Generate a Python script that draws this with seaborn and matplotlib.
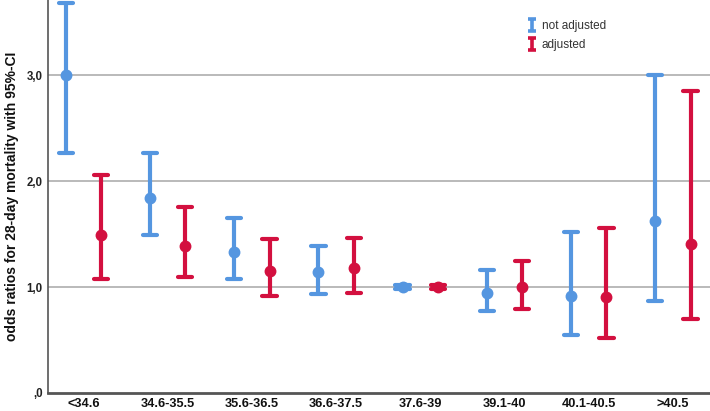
import numpy as np
import pandas as pd
import matplotlib
matplotlib.use("Agg")
import matplotlib.pyplot as plt
from matplotlib.lines import Line2D
from matplotlib.path import Path
import seaborn as sns

# temperature categories (x axis)
categories = ["<34.6", "34.6-35.5", "35.6-36.5", "36.6-37.5",
              "37.6-39", "39.1-40", "40.1-40.5", ">40.5"]

# odds ratios and 95%-CI
or_raw = [3.00, 1.84, 1.33, 1.145, 1.00, 0.94, 0.92, 1.62]
lo_raw = [2.27, 1.49, 1.08, 0.934, 0.98, 0.77, 0.55, 0.87]
hi_raw = [3.68, 2.27, 1.65, 1.39, 1.02, 1.16, 1.52, 3.00]

or_adj = [1.49, 1.39, 1.15, 1.18, 1.00, 1.00, 0.91, 1.41]
lo_adj = [1.08, 1.10, 0.915, 0.946, 0.98, 0.79, 0.52, 0.70]
hi_adj = [2.06, 1.76, 1.45, 1.46, 1.02, 1.25, 1.56, 2.85]

groups = ["not adjusted", "adjusted"]
colors = ["#5596E0", "#D3103F"]

# long table: lower / estimate / upper per cell -> median = estimate, min/max = CI
rows = []
for g, (est, lo, hi) in zip(groups, [(or_raw, lo_raw, hi_raw), (or_adj, lo_adj, hi_adj)]):
    for c, e, l, h in zip(categories, est, lo, hi):
        for v in (l, e, h):
            rows.append({"temp": c, "group": g, "odds": v})
df = pd.DataFrame(rows)

sns.set_style("white")
plt.rcParams["font.family"] = ["Liberation Sans", "DejaVu Sans"]

fig = plt.figure(figsize=(7.10, 4.11), dpi=100)
ax = fig.add_axes([0.0676, 0.044, 0.9324, 0.956])

sns.pointplot(data=df, x="temp", y="odds", hue="group", order=categories,
              hue_order=groups, palette=colors, estimator="median",
              errorbar=lambda v: (v.min(), v.max()), dodge=0.42,
              linestyle="none", markers="o", markersize=6.5,
              capsize=0.17, err_kws={"linewidth": 3.0}, legend=False, ax=ax)

ax.set_xlim(-0.42, 7.44)
ax.set_ylim(0, 3.713)
ax.set_yticks([0, 1, 2, 3])
ax.set_yticklabels([",0", "1,0", "2,0", "3,0"], fontweight="bold", fontsize=8.3, color="#222222")
for lab in ax.get_xticklabels():
    lab.set_fontweight("bold")
    lab.set_fontsize(9.2)
    lab.set_color("#111111")
ax.tick_params(axis="both", length=0, pad=4)
ax.set_xlabel("")
ax.set_ylabel("odds ratios for 28-day mortality with 95%-CI", fontweight="bold",
              fontsize=10, color="#111111", labelpad=5)

for y in [1, 2, 3]:
    ax.axhline(y, color="#b4b4b4", linewidth=1.3, zorder=0)

for side in ["top", "right"]:
    ax.spines[side].set_visible(False)
ax.spines["left"].set_color("#555555")
ax.spines["left"].set_linewidth(1.2)
ax.spines["bottom"].set_color("#555555")
ax.spines["bottom"].set_linewidth(2)

# legend with small I-beam icons
ibeam = Path([(-0.6, 1), (0.6, 1), (0, 1), (0, -1), (-0.6, -1), (0.6, -1)],
             [Path.MOVETO, Path.LINETO, Path.MOVETO, Path.LINETO, Path.MOVETO, Path.LINETO])
handles = [Line2D([], [], linestyle="none", marker=ibeam, markersize=9,
                  markeredgewidth=2.6, markeredgecolor=c, color=c) for c in colors]
leg = ax.legend(handles=handles, labels=groups, loc="upper left",
                bbox_to_anchor=(0.71, 0.975), frameon=False, fontsize=8.5,
                handlelength=0.6, handletextpad=0.5, labelspacing=0.55)
for t in leg.get_texts():
    t.set_color("#333333")

fig.savefig("out.png", dpi=100)
